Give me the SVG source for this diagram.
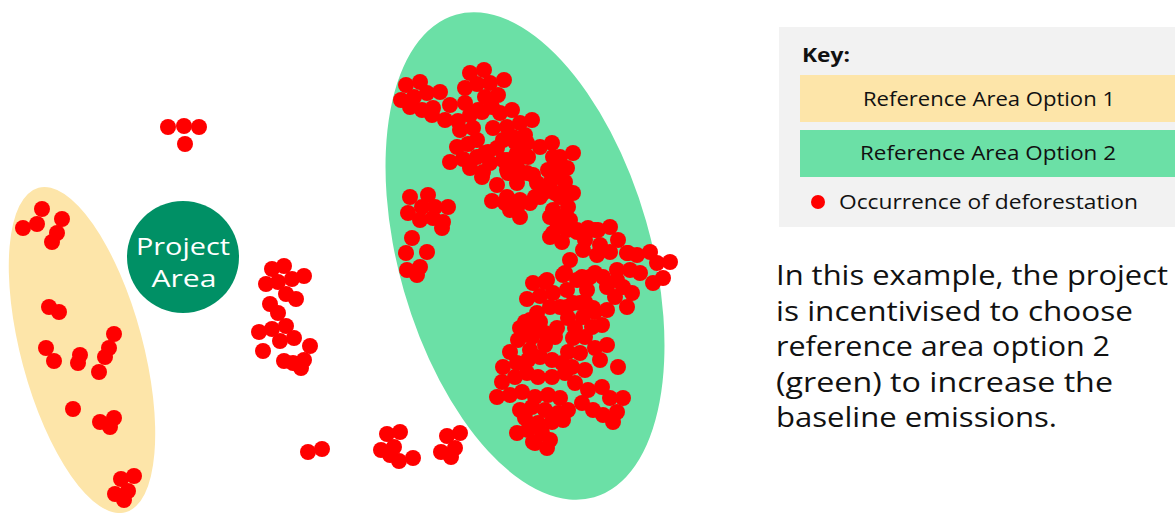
<svg xmlns="http://www.w3.org/2000/svg" width="1175" height="513" viewBox="0 0 1175 513">
<style>
.d{fill:#ff0000}
.t{font-family:"Open Sans","Noto Sans",sans-serif;fill:#111111}
</style>
<defs><circle id="c" r="8" class="d"/></defs>
<rect width="1175" height="513" fill="#ffffff"/>
<g id="reference-area-1">
<ellipse cx="82" cy="350" rx="61" ry="168" transform="rotate(-15 82 350)" fill="#fde5a9"/>
</g>
<g id="reference-area-2">
<ellipse cx="525" cy="256" rx="126" ry="251" transform="rotate(-16 525 256)" fill="#6be0a6"/>
</g>
<g id="project-area">
<circle cx="183" cy="257" r="56" fill="#009065"/>
<text x="183" y="255" text-anchor="middle" font-family="Open Sans, Noto Sans, sans-serif" font-size="23.5" fill="#ffffff" textLength="94" lengthAdjust="spacingAndGlyphs">Project</text>
<text x="184" y="287" text-anchor="middle" font-family="Open Sans, Noto Sans, sans-serif" font-size="23.5" fill="#ffffff" textLength="65" lengthAdjust="spacingAndGlyphs">Area</text>
</g>
<g id="dots-option1">
<use href="#c" x="42" y="209"/><use href="#c" x="62" y="219"/><use href="#c" x="23" y="228"/><use href="#c" x="37" y="224"/><use href="#c" x="57" y="233"/><use href="#c" x="52" y="242"/>
<use href="#c" x="49" y="307"/><use href="#c" x="59" y="312"/>
<use href="#c" x="46" y="348"/><use href="#c" x="54" y="361"/><use href="#c" x="80" y="355"/><use href="#c" x="78" y="363"/>
<use href="#c" x="114" y="334"/><use href="#c" x="109" y="348"/><use href="#c" x="105" y="357"/><use href="#c" x="99" y="372"/>
<use href="#c" x="73" y="409"/><use href="#c" x="100" y="422"/><use href="#c" x="114" y="418"/><use href="#c" x="110" y="427"/>
<use href="#c" x="134" y="476"/><use href="#c" x="121" y="479"/><use href="#c" x="128" y="491"/><use href="#c" x="115" y="494"/><use href="#c" x="124" y="500"/>
</g>
<g id="dots-outside">
<use href="#c" x="168" y="127"/><use href="#c" x="184" y="126"/><use href="#c" x="199" y="127"/><use href="#c" x="185" y="144"/>
<use href="#c" x="272" y="269"/><use href="#c" x="284" y="266"/><use href="#c" x="266" y="284"/><use href="#c" x="278" y="282"/><use href="#c" x="292" y="279"/><use href="#c" x="304" y="276"/>
<use href="#c" x="286" y="294"/><use href="#c" x="296" y="299"/><use href="#c" x="270" y="304"/><use href="#c" x="278" y="313"/>
<use href="#c" x="259" y="332"/><use href="#c" x="272" y="329"/><use href="#c" x="286" y="326"/><use href="#c" x="280" y="341"/><use href="#c" x="294" y="338"/><use href="#c" x="310" y="346"/>
<use href="#c" x="263" y="351"/><use href="#c" x="284" y="361"/><use href="#c" x="293" y="363"/><use href="#c" x="304" y="360"/><use href="#c" x="301" y="368"/>
<use href="#c" x="308" y="452"/><use href="#c" x="322" y="449"/>
<use href="#c" x="387" y="434"/><use href="#c" x="400" y="432"/><use href="#c" x="381" y="450"/><use href="#c" x="394" y="447"/><use href="#c" x="390" y="455"/><use href="#c" x="399" y="461"/><use href="#c" x="413" y="458"/>
<use href="#c" x="447" y="436"/><use href="#c" x="460" y="433"/><use href="#c" x="441" y="452"/><use href="#c" x="455" y="448"/><use href="#c" x="451" y="457"/>
</g>
<g id="dots-option2">
<use href="#c" x="406" y="85"/><use href="#c" x="420" y="82"/><use href="#c" x="401" y="100"/><use href="#c" x="414" y="97"/><use href="#c" x="427" y="93"/><use href="#c" x="440" y="92"/><use href="#c" x="422" y="110"/><use href="#c" x="433" y="108"/><use href="#c" x="432" y="115"/><use href="#c" x="410" y="107"/>
<use href="#c" x="470" y="73"/><use href="#c" x="484" y="70"/><use href="#c" x="465" y="88"/><use href="#c" x="477" y="84"/><use href="#c" x="490" y="83"/><use href="#c" x="504" y="80"/><use href="#c" x="485" y="97"/><use href="#c" x="498" y="95"/><use href="#c" x="492" y="107"/><use href="#c" x="478" y="110"/><use href="#c" x="465" y="103"/><use href="#c" x="450" y="105"/><use href="#c" x="445" y="120"/><use href="#c" x="458" y="121"/><use href="#c" x="470" y="115"/><use href="#c" x="482" y="112"/><use href="#c" x="473" y="128"/><use href="#c" x="460" y="130"/><use href="#c" x="500" y="113"/><use href="#c" x="512" y="110"/><use href="#c" x="493" y="128"/><use href="#c" x="507" y="127"/><use href="#c" x="503" y="140"/>
<use href="#c" x="457" y="147"/><use href="#c" x="468" y="144"/><use href="#c" x="450" y="162"/><use href="#c" x="463" y="159"/><use href="#c" x="477" y="157"/><use href="#c" x="470" y="168"/><use href="#c" x="488" y="152"/><use href="#c" x="497" y="148"/><use href="#c" x="490" y="163"/><use href="#c" x="503" y="160"/><use href="#c" x="515" y="157"/><use href="#c" x="507" y="170"/><use href="#c" x="483" y="172"/><use href="#c" x="515" y="142"/><use href="#c" x="517" y="167"/><use href="#c" x="482" y="177"/>
<use href="#c" x="532" y="120"/><use href="#c" x="520" y="123"/><use href="#c" x="525" y="135"/><use href="#c" x="513" y="137"/><use href="#c" x="477" y="140"/><use href="#c" x="485" y="153"/><use href="#c" x="507" y="160"/><use href="#c" x="517" y="153"/><use href="#c" x="528" y="157"/><use href="#c" x="540" y="147"/><use href="#c" x="552" y="143"/><use href="#c" x="560" y="157"/><use href="#c" x="573" y="153"/><use href="#c" x="567" y="168"/><use href="#c" x="527" y="143"/><use href="#c" x="553" y="157"/>
<use href="#c" x="497" y="185"/><use href="#c" x="492" y="201"/><use href="#c" x="505" y="203"/><use href="#c" x="520" y="217"/><use href="#c" x="510" y="210"/><use href="#c" x="520" y="200"/><use href="#c" x="535" y="197"/><use href="#c" x="543" y="193"/><use href="#c" x="555" y="193"/><use href="#c" x="567" y="192"/><use href="#c" x="573" y="193"/><use href="#c" x="508" y="173"/><use href="#c" x="520" y="172"/><use href="#c" x="533" y="175"/><use href="#c" x="548" y="170"/><use href="#c" x="560" y="177"/><use href="#c" x="565" y="182"/><use href="#c" x="537" y="183"/><use href="#c" x="550" y="183"/><use href="#c" x="527" y="173"/><use href="#c" x="558" y="168"/><use href="#c" x="517" y="183"/><use href="#c" x="507" y="197"/>
<use href="#c" x="517" y="208"/><use href="#c" x="530" y="203"/><use href="#c" x="540" y="197"/><use href="#c" x="550" y="190"/><use href="#c" x="560" y="197"/><use href="#c" x="570" y="193"/><use href="#c" x="553" y="210"/><use href="#c" x="568" y="207"/><use href="#c" x="557" y="222"/><use href="#c" x="570" y="220"/><use href="#c" x="550" y="217"/><use href="#c" x="563" y="217"/>
<use href="#c" x="410" y="197"/><use href="#c" x="428" y="195"/><use href="#c" x="408" y="213"/><use href="#c" x="422" y="207"/><use href="#c" x="435" y="207"/><use href="#c" x="448" y="207"/><use href="#c" x="420" y="220"/><use href="#c" x="433" y="218"/><use href="#c" x="443" y="222"/><use href="#c" x="442" y="228"/>
<use href="#c" x="412" y="238"/><use href="#c" x="406" y="253"/><use href="#c" x="427" y="252"/><use href="#c" x="420" y="267"/><use href="#c" x="407" y="270"/><use href="#c" x="417" y="275"/>
<use href="#c" x="553" y="233"/><use href="#c" x="567" y="230"/><use href="#c" x="577" y="230"/><use href="#c" x="588" y="228"/><use href="#c" x="595" y="230"/>
<use href="#c" x="550" y="237"/><use href="#c" x="562" y="242"/><use href="#c" x="577" y="232"/><use href="#c" x="598" y="230"/><use href="#c" x="610" y="227"/><use href="#c" x="618" y="240"/><use href="#c" x="628" y="253"/>
<use href="#c" x="570" y="260"/><use href="#c" x="583" y="250"/><use href="#c" x="597" y="255"/><use href="#c" x="610" y="252"/><use href="#c" x="627" y="253"/><use href="#c" x="637" y="255"/><use href="#c" x="650" y="252"/><use href="#c" x="657" y="263"/><use href="#c" x="670" y="262"/><use href="#c" x="663" y="278"/><use href="#c" x="653" y="283"/><use href="#c" x="640" y="273"/><use href="#c" x="630" y="270"/><use href="#c" x="617" y="270"/><use href="#c" x="603" y="277"/><use href="#c" x="590" y="277"/><use href="#c" x="577" y="280"/><use href="#c" x="563" y="275"/><use href="#c" x="547" y="280"/><use href="#c" x="585" y="240"/><use href="#c" x="600" y="245"/>
<use href="#c" x="553" y="293"/><use href="#c" x="567" y="290"/><use href="#c" x="587" y="290"/><use href="#c" x="607" y="287"/><use href="#c" x="623" y="287"/><use href="#c" x="632" y="293"/><use href="#c" x="627" y="307"/><use href="#c" x="607" y="310"/><use href="#c" x="593" y="308"/><use href="#c" x="580" y="303"/><use href="#c" x="567" y="307"/><use href="#c" x="550" y="307"/>
<use href="#c" x="533" y="283"/><use href="#c" x="545" y="282"/><use href="#c" x="527" y="299"/><use href="#c" x="540" y="296"/><use href="#c" x="565" y="273"/><use href="#c" x="582" y="277"/><use href="#c" x="595" y="273"/><use href="#c" x="617" y="280"/><use href="#c" x="615" y="297"/><use href="#c" x="585" y="302"/><use href="#c" x="573" y="303"/><use href="#c" x="560" y="307"/><use href="#c" x="537" y="313"/><use href="#c" x="525" y="322"/>
<use href="#c" x="523" y="335"/><use href="#c" x="518" y="340"/><use href="#c" x="532" y="337"/><use href="#c" x="545" y="333"/><use href="#c" x="555" y="337"/><use href="#c" x="557" y="328"/><use href="#c" x="568" y="318"/><use href="#c" x="583" y="317"/><use href="#c" x="595" y="312"/><use href="#c" x="602" y="325"/><use href="#c" x="592" y="327"/><use href="#c" x="575" y="328"/><use href="#c" x="573" y="338"/><use href="#c" x="585" y="337"/><use href="#c" x="595" y="348"/><use href="#c" x="607" y="345"/>
<use href="#c" x="530" y="320"/><use href="#c" x="540" y="322"/><use href="#c" x="545" y="345"/><use href="#c" x="530" y="350"/><use href="#c" x="520" y="328"/><use href="#c" x="535" y="330"/>
<use href="#c" x="568" y="352"/><use href="#c" x="580" y="353"/><use href="#c" x="600" y="360"/><use href="#c" x="585" y="370"/><use href="#c" x="572" y="367"/><use href="#c" x="618" y="367"/>
<use href="#c" x="510" y="352"/><use href="#c" x="503" y="367"/><use href="#c" x="517" y="363"/><use href="#c" x="528" y="360"/><use href="#c" x="540" y="357"/><use href="#c" x="552" y="360"/><use href="#c" x="562" y="363"/>
<use href="#c" x="502" y="382"/><use href="#c" x="515" y="377"/><use href="#c" x="527" y="373"/><use href="#c" x="538" y="377"/><use href="#c" x="552" y="377"/><use href="#c" x="565" y="373"/><use href="#c" x="575" y="383"/><use href="#c" x="588" y="390"/><use href="#c" x="602" y="387"/>
<use href="#c" x="623" y="398"/><use href="#c" x="610" y="398"/><use href="#c" x="617" y="412"/><use href="#c" x="613" y="422"/><use href="#c" x="603" y="415"/><use href="#c" x="593" y="410"/><use href="#c" x="582" y="403"/>
<use href="#c" x="497" y="397"/><use href="#c" x="510" y="395"/><use href="#c" x="522" y="392"/><use href="#c" x="535" y="397"/><use href="#c" x="548" y="395"/><use href="#c" x="560" y="398"/><use href="#c" x="568" y="410"/><use href="#c" x="558" y="413"/><use href="#c" x="545" y="410"/><use href="#c" x="532" y="407"/><use href="#c" x="520" y="410"/>
<use href="#c" x="525" y="418"/><use href="#c" x="538" y="423"/><use href="#c" x="552" y="422"/><use href="#c" x="563" y="420"/><use href="#c" x="517" y="433"/><use href="#c" x="528" y="430"/><use href="#c" x="542" y="433"/><use href="#c" x="550" y="440"/><use href="#c" x="533" y="442"/><use href="#c" x="547" y="448"/><use href="#c" x="535" y="443"/>
</g>
<g id="key">
<rect x="779" y="27" width="400" height="200" fill="#f2f2f2"/>
<text x="802" y="62" class="t" font-size="19" font-weight="bold" textLength="48" lengthAdjust="spacingAndGlyphs">Key:</text>
<rect x="800" y="75" width="380" height="47" fill="#fde5a9"/>
<text x="989" y="106" class="t" font-size="20" text-anchor="middle" textLength="252" lengthAdjust="spacingAndGlyphs">Reference Area Option 1</text>
<rect x="800" y="130" width="380" height="47" fill="#6be0a6"/>
<text x="988" y="160" class="t" font-size="20" text-anchor="middle" textLength="256" lengthAdjust="spacingAndGlyphs">Reference Area Option 2</text>
<circle cx="818" cy="202" r="7" class="d"/>
<text x="839" y="209" class="t" font-size="20" textLength="299" lengthAdjust="spacingAndGlyphs">Occurrence of deforestation</text>
</g>
<g id="caption">
<text class="t" font-size="28" lengthAdjust="spacingAndGlyphs">
<tspan x="776" y="285" textLength="392" lengthAdjust="spacingAndGlyphs">In this example, the project</tspan>
<tspan x="776" y="321" textLength="357" lengthAdjust="spacingAndGlyphs">is incentivised to choose</tspan>
<tspan x="776" y="356" textLength="334" lengthAdjust="spacingAndGlyphs">reference area option 2</tspan>
<tspan x="776" y="392" textLength="337" lengthAdjust="spacingAndGlyphs">(green) to increase the</tspan>
<tspan x="776" y="427" textLength="281" lengthAdjust="spacingAndGlyphs">baseline emissions.</tspan>
</text>
</g>
</svg>
